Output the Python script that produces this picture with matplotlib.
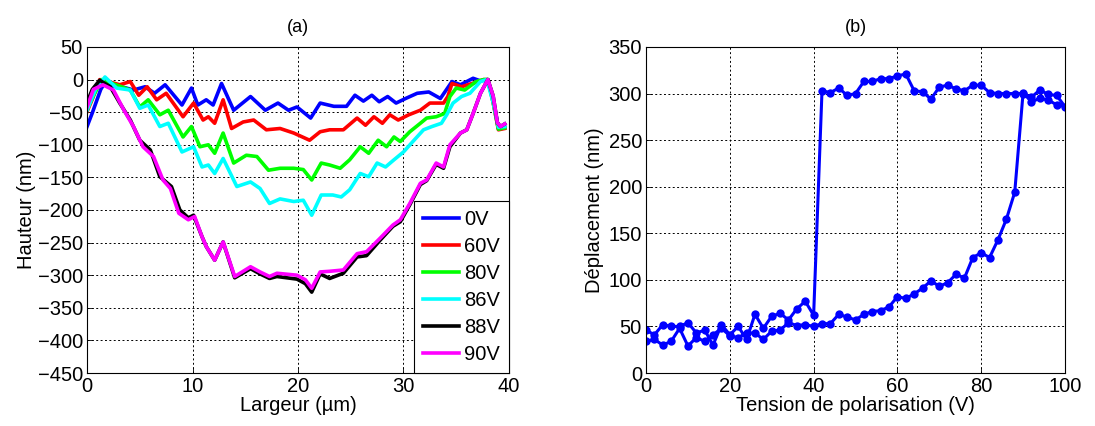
import matplotlib
matplotlib.use("Agg")
import matplotlib.pyplot as plt

plt.rcParams['font.family'] = ['Liberation Sans', 'DejaVu Sans']

# ---------------- Panel (a) data: profiles ----------------
x_0V = [0, 0.5, 1.3, 1.8, 2.5, 3.5, 4.4, 5.5, 6.4, 7.4, 9.0, 9.9, 10.5, 11.3, 11.95, 12.75, 13.9, 15.5, 16.9, 18.1,
        19.1, 19.9, 21.2, 22.1, 23.4, 24.6, 25.4, 26.2, 27.0, 27.7, 28.5, 29.3, 30.2, 31.3, 32.4, 33.5, 34.6, 35.4,
        36.6, 37.3, 38.0, 38.5, 39.0, 39.6]
h_0V = [-72, -51, -15, -2, -10, -12, -16, -11, -21, -8, -39, -13, -39, -31, -39, -6, -47, -26, -47, -36,
        -47, -42, -59, -36, -41, -41, -24, -33, -24, -34, -26, -36, -29, -21, -19, -29, -3, -8,
        2, -2, 0, -30, -75, -73]

x_60V = [0, 0.5, 1.2, 2.0, 3.1, 4.1, 4.9, 5.7, 6.6, 7.5, 9.1, 10.1, 11.0, 11.5, 12.1, 12.9, 13.7, 14.8, 15.8, 17.0,
         18.3, 19.6, 21.1, 22.1, 23.0, 24.3, 25.6, 26.4, 27.2, 28.0, 28.7, 29.5, 30.5, 31.6, 32.5, 33.8, 34.2, 34.6,
         35.5, 36.5, 37.6, 38.0, 38.5, 39.0, 39.6]
h_60V = [-49, -30, 0, -3, -8, -3, -24, -11, -31, -21, -57, -36, -62, -57, -67, -31, -75, -65, -62, -77,
         -75, -82, -93, -80, -77, -77, -59, -70, -57, -67, -54, -62, -54, -47, -36, -36, -26, -6,
         -11, -6, 0, 0, -35, -77, -75]

x_80V = [0, 0.6, 1.4, 2.2, 3.1, 4.1, 5.0, 5.8, 6.9, 7.7, 9.1, 9.9, 10.7, 11.5, 12.1, 12.9, 13.9, 15.1, 16.1, 17.2,
         18.3, 19.6, 20.5, 21.3, 22.2, 23.0, 24.0, 24.9, 25.9, 26.7, 27.6, 28.4, 29.1, 29.7, 30.6, 31.6, 32.2, 33.1,
         33.9, 34.4, 35.0, 35.8, 36.9, 37.6, 38.0, 38.5, 39.0, 39.6]
h_80V = [-46, -25, 0, -5, -10, -16, -42, -31, -54, -47, -88, -72, -103, -100, -113, -82, -128, -116, -118, -139,
         -136, -136, -138, -154, -128, -131, -136, -123, -103, -113, -93, -103, -88, -95, -80, -67, -59, -57,
         -52, -26, -13, -16, -3, 0, 0, -35, -76, -74]

x_86V = [0, 0.8, 1.7, 2.8, 4.1, 5.0, 5.8, 6.9, 7.7, 9.0, 10.1, 10.9, 11.5, 12.1, 12.9, 14.2, 15.5, 16.4, 17.3, 18.3,
         19.6, 20.5, 21.3, 22.2, 23.3, 24.1, 24.9, 25.9, 26.7, 27.5, 28.3, 29.1, 30.0, 31.0, 31.9, 32.7, 33.6, 34.1,
         34.7, 35.5, 36.3, 37.3, 37.9, 38.5, 39.0, 39.6]
h_86V = [-47, -15, 4, -13, -16, -44, -39, -72, -67, -111, -103, -134, -131, -144, -121, -164, -157, -167, -190, -183,
         -187, -185, -208, -177, -177, -180, -169, -144, -149, -128, -134, -123, -111, -93, -77, -72, -67, -54,
         -36, -26, -21, -3, 0, -35, -73, -72]

x_88V = [0, 0.5, 1.2, 2.2, 3.1, 4.1, 5.0, 6.0, 6.9, 8.0, 8.8, 9.6, 10.1, 10.9, 11.3, 12.1, 12.9, 14.0, 15.5, 16.4,
         17.3, 18.0, 19.9, 20.7, 21.3, 22.1, 23.0, 24.3, 25.6, 26.5, 27.8, 29.0, 29.7, 30.6, 31.6, 32.2, 33.1, 33.8,
         34.4, 35.4, 36.0, 36.6, 37.3, 38.0, 38.5, 38.9, 39.2, 39.6]
h_88V = [-35, -15, -1, -11, -36, -62, -93, -108, -149, -164, -200, -212, -208, -241, -256, -277, -249, -304, -290, -298,
         -305, -302, -306, -313, -326, -298, -305, -297, -272, -270, -246, -225, -218, -192, -161, -155, -130, -136,
         -103, -82, -77, -52, -21, 0, -25, -66, -72, -68]

x_90V = [0, 0.6, 1.5, 2.5, 3.5, 4.4, 5.3, 6.3, 7.2, 7.9, 8.7, 9.6, 10.2, 10.9, 11.3, 12.1, 12.9, 14.0, 15.5, 16.4,
         17.3, 18.0, 19.9, 20.7, 21.3, 22.1, 23.0, 24.3, 25.6, 26.5, 27.8, 29.0, 29.7, 30.6, 31.6, 32.2, 33.1, 33.8,
         34.4, 35.4, 36.0, 36.6, 37.3, 38.0, 38.5, 38.9, 39.2, 39.6]
h_90V = [-42, -15, -8, -16, -47, -72, -103, -118, -154, -167, -205, -215, -210, -241, -256, -277, -249, -302, -287, -295,
         -302, -297, -300, -307, -320, -295, -294, -292, -267, -264, -243, -223, -215, -190, -159, -154, -128, -134,
         -100, -82, -77, -52, -21, 0, -25, -66, -72, -68]

labels_a = ['0V', '60V', '80V', '86V', '88V', '90V']
colors_a = ['#0000ff', '#ff0000', '#00ff00', '#00ffff', '#000000', '#ff00ff']

# ---------------- Panel (b) data: hysteresis ----------------
V_up = [0, 2, 4, 6, 8, 10, 12, 14, 16, 18, 20, 22, 24, 26, 28, 30, 32, 34, 36, 38,
        40, 42, 44, 46, 48, 50, 52, 54, 56, 58, 60, 62, 64, 66, 68, 70, 72, 74, 76, 78,
        80, 82, 84, 86, 88, 90, 92, 94, 96, 98, 100]
D_up = [34, 36, 30, 34, 48, 29, 38, 34, 41, 48, 40, 38, 43, 43, 36, 45, 46, 54, 51, 52,
        50, 53, 53, 63, 60, 57, 63, 66, 67, 71, 82, 80, 85, 91, 99, 93, 97, 106, 102, 124,
        129, 124, 143, 165, 194, 301, 291, 295, 293, 288, 286]
V_down = [98, 96, 94, 92, 90, 88, 86, 84, 82, 80, 78, 76, 74, 72, 70, 68, 66, 64, 62, 60,
          58, 56, 54, 52, 50, 48, 46, 44, 42, 40, 38, 36, 34, 32, 30, 28, 26, 24, 22, 20,
          18, 16, 14, 12, 10, 8, 6, 4, 2, 0]
D_down = [298, 299, 304, 296, 300, 300, 300, 300, 301, 309, 309, 303, 305, 309, 307, 294, 302, 303, 321, 319,
          316, 316, 313, 313, 300, 298, 306, 301, 303, 62, 77, 69, 57, 64, 61, 48, 63, 36, 50, 41,
          52, 30, 46, 43, 54, 50, 50, 52, 41, 46]

# ---------------- Figure ----------------
fig = plt.figure(figsize=(10.95, 4.26), dpi=100)
axa = fig.add_axes([0.0795, 0.1244, 0.3853, 0.7653])
axb = fig.add_axes([0.5900, 0.1244, 0.3826, 0.7653])

grid_kw = dict(color='black', linestyle=(0, (2, 2.5)), linewidth=0.7)
tick_fs = 14.5
label_fs = 14.5

series = [(x_0V, h_0V), (x_60V, h_60V), (x_80V, h_80V), (x_86V, h_86V), (x_88V, h_88V), (x_90V, h_90V)]
for (xs, hs), lab, col in zip(series, labels_a, colors_a):
    axa.plot(xs, hs, color=col, linewidth=2.6, label=lab)

axa.set_xlim(0, 40)
axa.set_ylim(-450, 50)
axa.set_xticks([0, 10, 20, 30, 40])
axa.set_yticks(list(range(-450, 51, 50)))
axa.grid(True, **grid_kw)
axa.set_axisbelow(True)
axa.set_xlabel('Largeur (µm)', fontsize=label_fs, labelpad=0)
axa.set_ylabel('Hauteur (nm)', fontsize=label_fs, labelpad=1)
axa.set_title('(a)', fontsize=13, pad=11)
leg = axa.legend(loc='lower right', fontsize=14.5, frameon=True, fancybox=False,
                 edgecolor='black', framealpha=1, borderaxespad=0, handlelength=1.8,
                 handletextpad=0.25, labelspacing=0.4, borderpad=0.45)
leg.get_frame().set_linewidth(0.8)

axb.plot(V_up + V_down, D_up + D_down, color='#0000ff', linewidth=2.2,
         marker='o', markersize=6, markeredgewidth=0)
axb.set_xlim(0, 100)
axb.set_ylim(0, 350)
axb.set_xticks([0, 20, 40, 60, 80, 100])
axb.set_yticks(list(range(0, 351, 50)))
axb.grid(True, **grid_kw)
axb.set_axisbelow(True)
axb.set_xlabel('Tension de polarisation (V)', fontsize=label_fs, labelpad=0)
axb.set_ylabel('Déplacement (nm)', fontsize=label_fs, labelpad=3)
axb.set_title('(b)', fontsize=13, pad=11)

for ax in (axa, axb):
    ax.tick_params(direction='in', length=4, width=0.6, labelsize=tick_fs, pad=3)
    for s in ax.spines.values():
        s.set_linewidth(0.8)

fig.savefig('out.png', dpi=100)
